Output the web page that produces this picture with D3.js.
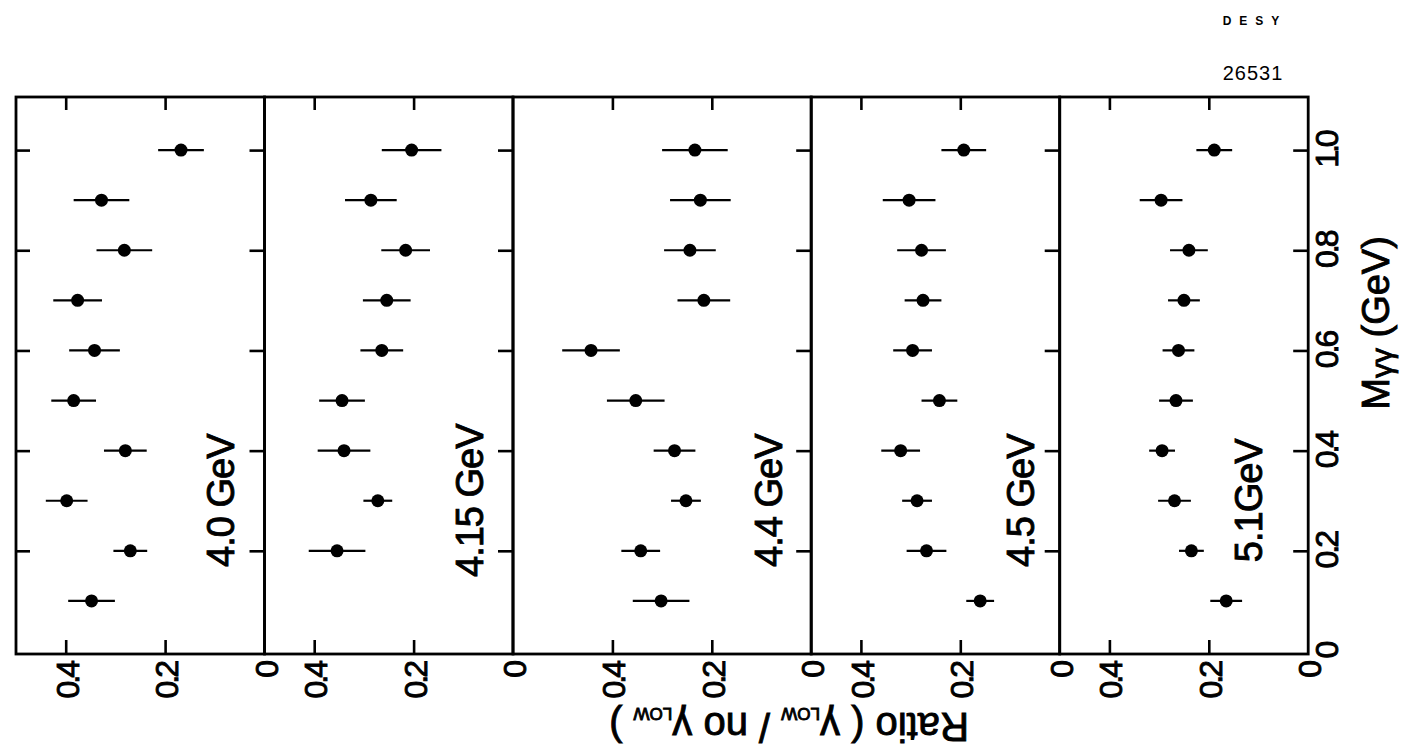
<!DOCTYPE html>
<head>
<meta charset="utf-8" />
<script src="https://d3js.org/d3.v7.min.js"></script>
<style>
    body {
        margin: 0;
        background: #fff;
        font-family: "Liberation Sans", Arial, sans-serif;
    }
    text {
        fill: #000;
    }
    .heavy {
        stroke: #000;
        stroke-width: 0.9;
    }
</style>
</head>

<body>
    <div id="chart"></div>

    <script>
        // beam energies, one panel each
        const energies = ["4.0 GeV", "4.15 GeV", "4.4 GeV", "4.5 GeV", "5.1GeV"];
        const ratioMax = [0.5, 0.5, 0.6, 0.5, 0.5];

        // M_gamma-gamma bins (GeV)
        const mass = [0.1, 0.2, 0.3, 0.4, 0.5, 0.6, 0.7, 0.8, 0.9, 1.0];

        const ratio_40  = [0.348, 0.270, 0.398, 0.280, 0.384, 0.342, 0.376, 0.282, 0.328, 0.168];
        const err_40    = [0.047, 0.034, 0.042, 0.043, 0.045, 0.051, 0.049, 0.056, 0.056, 0.046];
        const ratio_415 = [null, 0.354, 0.272, 0.340, 0.344, 0.264, 0.254, 0.216, 0.286, 0.204];
        const err_415   = [null, 0.057, 0.029, 0.053, 0.046, 0.043, 0.048, 0.049, 0.052, 0.060];
        const ratio_44  = [0.302, 0.343, 0.252, 0.275, 0.353, 0.443, 0.216, 0.244, 0.223, 0.234];
        const err_44    = [0.057, 0.039, 0.030, 0.042, 0.058, 0.058, 0.053, 0.052, 0.061, 0.066];
        const ratio_45  = [0.160, 0.268, 0.287, 0.320, 0.242, 0.296, 0.275, 0.278, 0.303, 0.193];
        const err_45    = [0.028, 0.040, 0.030, 0.039, 0.036, 0.039, 0.037, 0.049, 0.053, 0.045];
        const ratio_51  = [0.165, 0.235, 0.269, 0.294, 0.266, 0.261, 0.250, 0.240, 0.296, 0.189];
        const err_51    = [0.032, 0.025, 0.033, 0.026, 0.034, 0.032, 0.032, 0.038, 0.043, 0.036];

        const ratioTicks = [0.4, 0.2];
        const ratioLabels = [0.4, 0.2, 0];
        const massTicks = [0.2, 0.4, 0.6, 0.8, 1.0];
        const massLabels = [0, 0.2, 0.4, 0.6, 0.8, 1.0];

        const series = [
            { ratio: ratio_40, err: err_40 },
            { ratio: ratio_415, err: err_415 },
            { ratio: ratio_44, err: err_44 },
            { ratio: ratio_45, err: err_45 },
            { ratio: ratio_51, err: err_51 }
        ];

        const width = 1417, height = 756;
        const pxPerUnit = 497;
        const left0 = 16;
        // where the energy label sits inside each panel (ratio units from the 0 edge)
        const labelPos = [0.062, 0.060, 0.058, 0.052, 0.092];

        var svg = d3.select("#chart")
            .append("svg")
            .attr("width", width)
            .attr("height", height);

        var y = d3.scaleLinear().domain([0, 1.1]).range([651, 100]);
        var yTop = y(1.106), yBot = y(-0.006);

        var cursor = left0;
        var xs = ratioMax.map(function(m) {
            var s = d3.scaleLinear().domain([m, 0]).range([cursor, cursor + m * pxPerUnit]);
            cursor += m * pxPerUnit;
            return s;
        });

        function tidy(sel) {
            sel.select(".domain").remove();
            sel.selectAll(".tick line").attr("stroke", "#000").attr("stroke-width", 2.6);
        }

        xs.forEach(function(x, i) {
            var g = svg.append("g");
            var x0 = x.range()[0], x1 = x.range()[1];

            g.append("rect")
                .attr("x", x0).attr("y", yTop)
                .attr("width", x1 - x0).attr("height", yBot - yTop)
                .attr("fill", "none").attr("stroke", "#000").attr("stroke-width", 2.8);

            g.append("g").attr("transform", "translate(0," + yTop + ")")
                .call(d3.axisBottom(x).tickValues(ratioTicks).tickSize(13).tickFormat(""))
                .call(tidy);
            g.append("g").attr("transform", "translate(0," + yBot + ")")
                .call(d3.axisTop(x).tickValues(ratioTicks).tickSize(14).tickFormat(""))
                .call(tidy);
            g.append("g").attr("transform", "translate(" + x1 + ",0)")
                .call(d3.axisLeft(y).tickValues(massTicks).tickSize(15).tickFormat(""))
                .call(tidy);
            if (i === 0) {
                g.append("g").attr("transform", "translate(" + x0 + ",0)")
                    .call(d3.axisRight(y).tickValues(massTicks).tickSize(14).tickFormat(""))
                    .call(tidy);
            }

            // ratio tick labels, turned like the rest of the page
            g.selectAll(".rlab")
                .data(ratioLabels)
                .join("text")
                .attr("class", "heavy")
                .attr("transform", function(d) { return "translate(" + (x(d) + 13) + "," + (yBot + 9) + ") rotate(-90)"; })
                .attr("text-anchor", "end")
                .attr("font-size", 32)
                .attr("letter-spacing", -3)
                .text(function(d) { return d === 0 ? "0" : d3.format(".1f")(d); });

            var pts = mass.map(function(m, k) {
                return { m: m, r: series[i].ratio[k], e: series[i].err[k] };
            }).filter(function(d) { return d.r != null; });

            g.selectAll(".bar")
                .data(pts)
                .join("line")
                .attr("x1", function(d) { return x(d.r + d.e); })
                .attr("x2", function(d) { return x(d.r - d.e); })
                .attr("y1", function(d) { return y(d.m); })
                .attr("y2", function(d) { return y(d.m); })
                .attr("stroke", "#000")
                .attr("stroke-width", 2.2);

            g.selectAll(".dot")
                .data(pts)
                .join("circle")
                .attr("cx", function(d) { return x(d.r); })
                .attr("cy", function(d) { return y(d.m); })
                .attr("r", 6.5)
                .attr("fill", "#000");

            g.append("text")
                .attr("class", "heavy")
                .attr("transform", "translate(" + x(labelPos[i]) + "," + y(0.3) + ") rotate(-90)")
                .attr("text-anchor", "middle")
                .attr("font-size", 38)
                .attr("letter-spacing", -1)
                .text(energies[i]);
        });

        var xEnd = xs[xs.length - 1].range()[1];

        svg.selectAll(".mlab")
            .data(massLabels)
            .join("text")
            .attr("class", "heavy")
            .attr("transform", function(d) { return "translate(" + (xEnd + 30) + "," + y(d) + ") rotate(-90)"; })
            .attr("text-anchor", "middle")
            .attr("font-size", 32)
            .attr("letter-spacing", -3)
            .text(function(d) { return d === 0 ? "0" : d3.format(".1f")(d); });

        // M_gg axis title
        var mt = svg.append("text")
            .attr("class", "heavy")
            .attr("transform", "translate(" + (xEnd + 81) + "," + y(0.655) + ") rotate(-90)")
            .attr("text-anchor", "middle")
            .attr("font-size", 38);
        mt.append("tspan").text("M");
        mt.append("tspan").attr("font-size", 30).attr("dy", 3).text("γγ");
        mt.append("tspan").attr("dy", -3).text(" (GeV)");

        // ratio title, upside down as on the scan
        var rt = svg.append("text")
            .attr("class", "heavy")
            .attr("transform", "translate(789," + (yBot + 59) + ") rotate(180)")
            .attr("text-anchor", "middle")
            .attr("font-size", 40);
        rt.append("tspan").text("Ratio ( γ");
        rt.append("tspan").attr("font-size", 17).attr("dy", 5).text("LOW");
        rt.append("tspan").attr("dy", -5).text(" / no γ");
        rt.append("tspan").attr("font-size", 17).attr("dy", 5).text("LOW");
        rt.append("tspan").attr("dy", -5).text(" )");

        svg.append("text")
            .attr("x", 1255).attr("y", 25)
            .attr("text-anchor", "middle")
            .attr("font-size", 12)
            .attr("font-weight", "bold")
            .attr("letter-spacing", 8)
            .text("DESY");

        svg.append("text")
            .attr("x", 1253).attr("y", 80)
            .attr("text-anchor", "middle")
            .attr("font-size", 20)
            .attr("letter-spacing", 1)
            .text("26531");
    </script>
</body>
